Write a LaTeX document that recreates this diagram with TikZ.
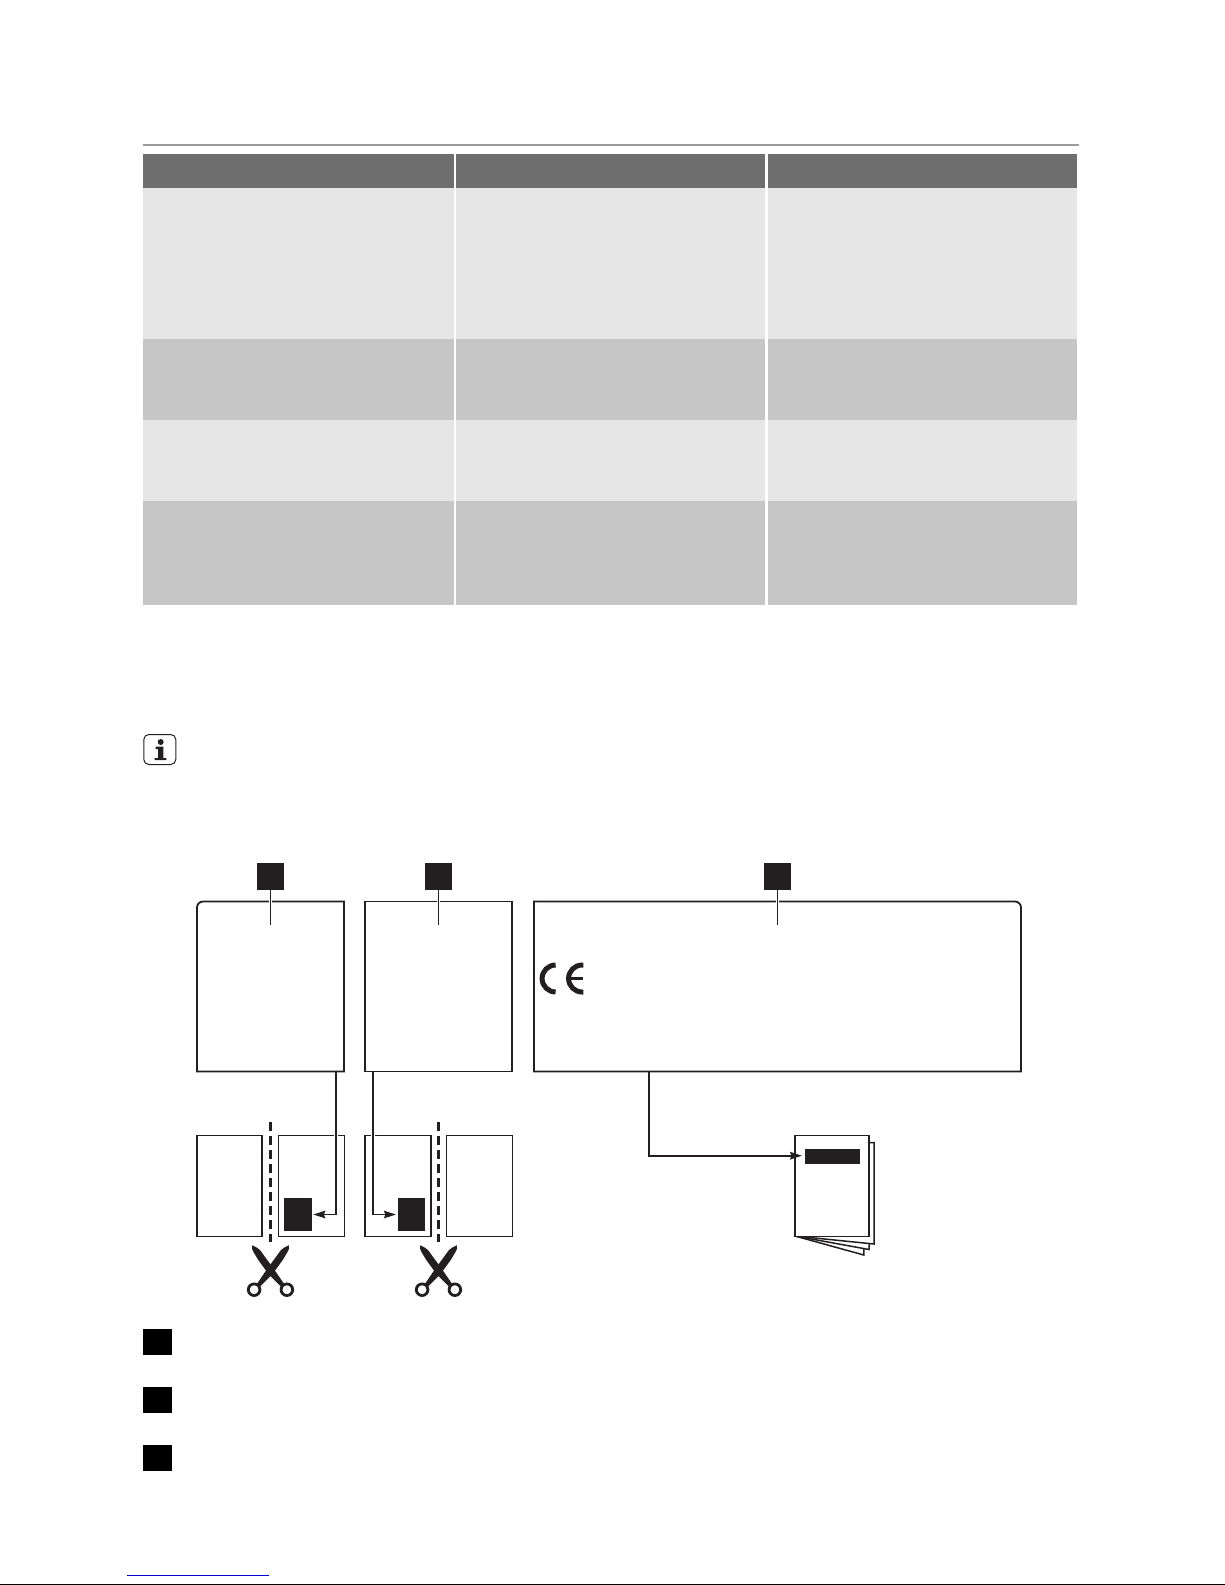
\documentclass[tikz,border=0pt]{standalone}
\usetikzlibrary{arrows.meta}
\definecolor{hdr}{HTML}{6E6E6E}
\definecolor{rowl}{HTML}{E6E6E6}
\definecolor{rowd}{HTML}{C6C6C6}
\definecolor{rulegray}{HTML}{9A9A9A}
\definecolor{ink}{HTML}{231F20}
\definecolor{linkblue}{HTML}{0000CC}
\tikzset{
  cell/.style={inner sep=0pt,outer sep=0pt,draw=none},
  colA/.style={cell,minimum width=311pt},
  colB/.style={cell,minimum width=309pt},
  colC/.style={cell,minimum width=309pt},
  hrow/.style={fill=hdr,minimum height=34pt},
  r1/.style={fill=rowl,minimum height=151pt},
  r2/.style={fill=rowd,minimum height=81pt},
  r3/.style={fill=rowl,minimum height=81pt},
  r4/.style={fill=rowd,minimum height=104pt},
  frame/.style={inner sep=0pt,outer sep=0pt,minimum width=147pt,minimum height=170pt},
  outline/.style={draw=ink,line width=1.8pt,line join=miter},
  sheet/.style={draw=ink,line width=1.6pt,inner sep=0pt,outer sep=0pt,fill=white,minimum height=101pt},
  tag/.style={fill=ink,inner sep=0pt,outer sep=0pt,minimum size=27pt},
  legend/.style={fill=black,inner sep=0pt,outer sep=0pt,minimum width=29pt,minimum height=26pt},
  patch/.style={fill=ink,inner sep=0pt,outer sep=0pt},
  leader/.style={draw=ink,line width=1.1pt},
  gap/.style={draw=white,line width=3.6pt},
  conn/.style={draw=ink,line width=1.9pt,-{Stealth[length=12pt,width=7.5pt,inset=1.5pt]}},
  cutline/.style={draw=ink,line width=3.3pt,dash pattern=on 8.5pt off 5.5pt},
  ce/.style={draw=ink,line width=5pt},
  pics/scissor/.style={code={
    \foreach \s in {1,-1}{
      \fill[ink,xscale=\s] (-18.3,-24.7) .. controls (-15.5,-23) and (-12.5,-22.5) .. (-10.5,-20)
        -- (-3.2,-10) -- (2,-3) -- (14,14.5) -- (11,17) -- (-2,4) -- (-12.2,-10) -- (-17,-18)
        .. controls (-18.5,-20) and (-18.8,-22) .. cycle;
      \draw[ink,line width=2.8pt,xscale=\s] (16.4,19.7) circle[radius=5.8];
    }
  }}
}
\begin{document}
\begin{tikzpicture}[x=1pt,y=-1pt]
\useasboundingbox (0,0) rectangle (1225,1585);
\fill[white] (0,0) rectangle (1225,1585);
% top rule
\node[cell,fill=rulegray,minimum width=936pt,minimum height=2pt] (toprule) at (611,145) {};
% table
\node[colA,hrow] (h1) at (298.5,171) {};
\node[colB,hrow] (h2) at (610.5,171) {};
\node[colC,hrow] (h3) at (922.5,171) {};
\node[colA,r1] (a1) at (298.5,263.5) {};
\node[colB,r1] (b1) at (610.5,263.5) {};
\node[colC,r1] (c1) at (922.5,263.5) {};
\node[colA,r2] (a2) at (298.5,379.5) {};
\node[colB,r2] (b2) at (610.5,379.5) {};
\node[colC,r2] (c2) at (922.5,379.5) {};
\node[colA,r3] (a3) at (298.5,460.5) {};
\node[colB,r3] (b3) at (610.5,460.5) {};
\node[colC,r3] (c3) at (922.5,460.5) {};
\node[colA,r4] (a4) at (298.5,553) {};
\node[colB,r4] (b4) at (610.5,553) {};
\node[colC,r4] (c4) at (922.5,553) {};
% info icon
\node[draw=ink,line width=1pt,rounded corners=5pt,inner sep=0pt,outer sep=0pt,minimum width=32pt,minimum height=30pt] (info) at (159.8,749.5) {};
\fill[ink] (160.7,742) circle[radius=3];
\fill[ink] (155.7,746.7) -- (163.4,746.7) -- (163.4,758) -- (166.4,758) -- (166.4,760.2) -- (154.7,760.2) -- (154.7,758) -- (158.2,758) -- (158.2,749) -- (155.7,749) -- cycle;
% top tags
\node[tag] (t1) at (270.5,876.5) {};
\node[tag] (t2) at (438.5,876.5) {};
\node[tag] (t3) at (777.5,876.5) {};
% frames
\node[frame] (f1) at (270.5,986.5) {};
\node[frame] (f2) at (438.5,986.5) {};
\node[frame,minimum width=487pt] (f3) at (777.5,986.5) {};
\draw[outline] (f1.north east) -- (f1.south east) -- (f1.south west) [rounded corners=6pt] -- (f1.north west) [sharp corners] -- cycle;
\draw[outline] (f2.north west) rectangle (f2.south east);
\draw[outline] (f3.south east) -- (f3.south west) -- (f3.north west) [rounded corners=6pt] -- (f3.north east) [sharp corners] -- cycle;
% leaders
\coordinate (e1) at (270.5,924.7);
\coordinate (e2) at (438.5,924.7);
\coordinate (e3) at (777.5,924.7);
\draw[gap] (270.5,898) -- (270.5,905);
\draw[gap] (438.5,898) -- (438.5,905);
\draw[gap] (777.5,898) -- (777.5,905);
\draw[leader] (t1.south) -- (e1);
\draw[leader] (t2.south) -- (e2);
\draw[leader] (t3.south) -- (e3);
% CE mark
\draw[ce] (555.6,992) arc[start angle=90,end angle=270,radius=13.5];
\draw[ce] (583.4,992) -- (582.1,992) arc[start angle=90,end angle=270,radius=13.5] -- (583.4,965);
\draw[ink,line width=3.2pt] (568,978.5) -- (583.4,978.5);
% lower sheets
\node[sheet,minimum width=65.5pt] (s1) at (229.5,1185.8) {};
\node[sheet,minimum width=66pt] (s2) at (311.3,1185.8) {};
\node[sheet,minimum width=65.5pt] (s3) at (398,1185.8) {};
\node[sheet,minimum width=66pt] (s4) at (479.3,1185.8) {};
\node[patch,minimum width=28pt,minimum height=33pt] (p1) at (298,1214.5) {};
\node[patch,minimum width=27pt,minimum height=33pt] (p2) at (411.5,1214.5) {};
\coordinate (d1a) at (270.3,1122);
\coordinate (d1b) at (270.3,1242);
\coordinate (d2a) at (438.3,1122);
\coordinate (d2b) at (438.3,1242);
\draw[cutline] (d1a) -- (d1b);
\draw[cutline] (d2a) -- (d2b);
% connectors to patches
\coordinate (k1) at (335.7,1071);
\coordinate (k2) at (372.7,1071);
\coordinate (k3) at (648.7,1071);
\draw[gap,line width=3.8pt] (335.7,1132) -- (335.7,1139);
\draw[gap,line width=3.8pt] (372.7,1132) -- (372.7,1139);
\draw[conn,shorten >=1.3pt] (k1) |- (p1.east);
\draw[conn,shorten >=2pt] (k2) |- (p2.west);
% booklet
\draw[draw=ink,fill=white,line width=1.5pt,line join=miter] (795,1236) -- (863.8,1255) -- (864,1245) -- cycle;
\draw[draw=ink,fill=white,line width=1.5pt,line join=miter] (795,1236) -- (869,1249.5) -- (869.5,1240) -- cycle;
\draw[draw=ink,fill=white,line width=1.5pt,line join=miter] (795,1236) -- (874,1244) -- (874,1142.7) -- (865,1142.7) -- cycle;
\node[sheet,minimum width=74pt] (page) at (832,1185.8) {};
\node[patch,minimum width=55pt,minimum height=15pt] (bar) at (832.5,1156.5) {};
\coordinate (barpt) at (805,1155.7);
\draw[conn,shorten >=3pt] (k3) |- (barpt);
% scissors
\pic (sc1) at (270.5,1270) {scissor};
\pic (sc2) at (438.5,1270) {scissor};
% legend
\node[legend] (l1) at (157.5,1342) {};
\node[legend] (l2) at (157.5,1400) {};
\node[legend] (l3) at (157.5,1458) {};
% footer
\node[cell,fill=linkblue,minimum width=142pt,minimum height=1pt] (linkline) at (198,1575.5) {};
\node[cell,fill=black,minimum width=1225pt,minimum height=1pt] (footline) at (612.5,1584.5) {};
\end{tikzpicture}
\end{document}
